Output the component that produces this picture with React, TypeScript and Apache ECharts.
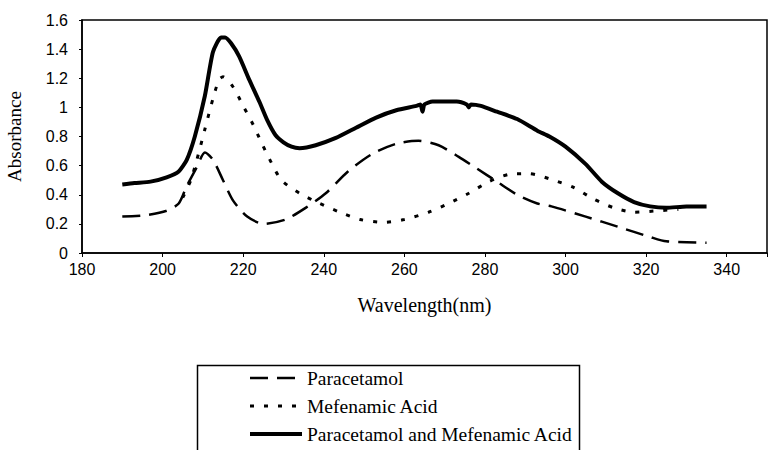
import React, { useEffect, useRef } from "react";
import * as echarts from "echarts";

const seriesNames = [
  "Paracetamol",
  "Mefenamic Acid",
  "Paracetamol and Mefenamic Acid",
];

const xTicks = [180, 200, 220, 240, 260, 280, 300, 320, 340];
const yTicks = [0, 0.2, 0.4, 0.6, 0.8, 1, 1.2, 1.4, 1.6];

// Paracetamol: [wavelength nm, absorbance]
const paracetamol: [number, number][] = [
  [190, 0.25], [196, 0.26], [201, 0.29], [204, 0.34], [206, 0.46],
  [208.5, 0.59], [210.5, 0.69], [212.5, 0.64], [215, 0.5], [217.5, 0.36],
  [221, 0.25], [225, 0.2], [230.5, 0.23], [235.5, 0.31], [240.5, 0.41],
  [246, 0.56], [252, 0.68], [258, 0.75], [263.5, 0.77], [268.5, 0.74],
  [273.5, 0.66], [278, 0.58], [283, 0.49], [288, 0.4], [293, 0.34],
  [296.5, 0.32], [305, 0.25], [313, 0.18], [321, 0.11], [325, 0.08],
  [335, 0.07],
];

const mefenamic: [number, number][] = [
  [205, 0.38], [207, 0.5], [208.5, 0.64], [210.5, 0.85], [212.5, 1.06],
  [214, 1.19], [215, 1.21], [217.5, 1.14], [220, 1.01], [222.5, 0.88],
  [224.5, 0.76], [227, 0.62], [229.5, 0.5], [234, 0.41], [239, 0.34],
  [244, 0.28], [249, 0.23], [255, 0.21], [260, 0.23], [266, 0.28],
  [271, 0.34], [276, 0.41], [281, 0.49], [286, 0.54], [291, 0.545],
  [297, 0.5], [302, 0.45], [307, 0.37], [312, 0.31], [317, 0.28],
  [323, 0.29], [328, 0.3],
];

const combined: [number, number][] = [
  [190, 0.47], [193, 0.48], [197, 0.49], [201, 0.52], [204, 0.56],
  [206, 0.64], [208, 0.8], [210.5, 1.08], [212.5, 1.38], [214.5, 1.48],
  [215.5, 1.48], [217, 1.44], [219, 1.35], [221.5, 1.19], [224, 1.04],
  [226, 0.91], [228, 0.81], [230, 0.76], [232, 0.73], [234, 0.72],
  [238, 0.74], [243, 0.79], [248, 0.86], [253, 0.93], [258, 0.98],
  [263, 1.01], [264, 1.02], [264.5, 0.97], [265, 1.02], [267, 1.04],
  [273, 1.04], [275.5, 1.02], [276, 1.0], [276.5, 1.02], [279, 1.01],
  [283, 0.97], [288, 0.92], [293, 0.84], [296, 0.8], [300, 0.73],
  [305, 0.61], [309, 0.49], [313, 0.41], [317, 0.35], [321, 0.32],
  [325, 0.31], [330, 0.32], [335, 0.32],
];

export default function App() {
  const ref = useRef<HTMLDivElement>(null);
  useEffect(() => {
    if (!ref.current) return;
    const chart = echarts.init(ref.current, null, { renderer: "svg" });
    const sans = "Liberation Sans";
    const serif = "Liberation Serif";
    chart.setOption({
      animation: false,
      backgroundColor: "#ffffff",
      grid: {
        left: 82,
        top: 20,
        right: 2,
        bottom: 197,
        show: true,
        borderColor: "#000",
        borderWidth: 1.5,
        outerBoundsMode: "none",
        containLabel: false,
      },
      xAxis: {
        type: "value",
        min: 180,
        max: 350,
        interval: 20,
        name: "Wavelength(nm)",
        nameLocation: "middle",
        nameGap: 42,
        nameTextStyle: { fontFamily: serif, fontSize: 20, color: "#000" },
        axisLine: { show: true, onZero: false, lineStyle: { color: "#000", width: 1.5 } },
        axisTick: { show: true, length: 4, lineStyle: { color: "#000" } },
        axisLabel: {
          color: "#000",
          fontFamily: sans,
          fontSize: 16,
          margin: 8,
          formatter: (v: number) => (xTicks.includes(v) ? String(v) : ""),
        },
        splitLine: { show: false },
      },
      yAxis: {
        type: "value",
        min: 0,
        max: 1.6,
        interval: 0.2,
        name: "Absorbance",
        nameLocation: "middle",
        nameGap: 58,
        nameTextStyle: { fontFamily: serif, fontSize: 19, color: "#000" },
        axisLine: { show: true, lineStyle: { color: "#000", width: 1.5 } },
        axisTick: { show: true, length: 3, lineStyle: { color: "#000" } },
        axisLabel: {
          color: "#000",
          fontFamily: sans,
          fontSize: 16,
          margin: 14,
          formatter: (v: number) => {
            const t = yTicks.find((y) => Math.abs(y - v) < 1e-6);
            return t === undefined ? "" : String(t);
          },
        },
        splitLine: { show: false },
      },
      legend: {
        orient: "vertical",
        left: 248,
        top: 368,
        itemWidth: 52,
        itemHeight: 12,
        itemGap: 8,
        padding: 0,
        data: seriesNames,
        itemStyle: { opacity: 0 },
        lineStyle: { width: "inherit", type: "inherit" },
        textStyle: { fontFamily: serif, fontSize: 19.5, color: "#000" },
      },
      graphic: [
        {
          type: "rect",
          left: 195,
          top: 363,
          shape: { width: 382, height: 120 },
          style: { fill: "none", stroke: "#000", lineWidth: 1.5 },
          silent: true,
        },
      ],
      series: [
        {
          name: seriesNames[0],
          type: "line",
          data: paracetamol,
          symbol: "none",
          smooth: 0.25,
          lineStyle: { color: "#000", width: 2.5, type: [18, 9] },
          itemStyle: { color: "#000" },
          z: 2,
        },
        {
          name: seriesNames[1],
          type: "line",
          data: mefenamic,
          symbol: "none",
          smooth: 0.25,
          lineStyle: { color: "#000", width: 3, type: [4, 10] },
          itemStyle: { color: "#000" },
          z: 3,
        },
        {
          name: seriesNames[2],
          type: "line",
          data: combined,
          symbol: "none",
          smooth: 0.2,
          lineStyle: { color: "#000", width: 4, type: "solid" },
          itemStyle: { color: "#000" },
          z: 4,
        },
      ],
    });
    return () => chart.dispose();
  }, []);
  return (
    <div
      ref={ref}
      style={{ position: "fixed", left: 0, top: 0, width: 769, height: 450 }}
    />
  );
}
